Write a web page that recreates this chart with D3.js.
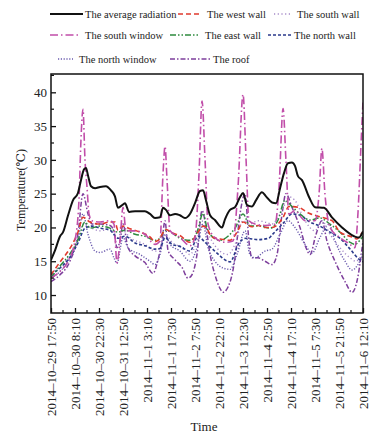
<!DOCTYPE html>
<meta charset="utf-8">
<script src="https://d3js.org/d3.v7.js"></script>
<style>
  body { margin: 0; background: #fff; }
  text { font-family: "Liberation Serif", "DejaVu Serif", serif; fill: #222; }
</style>
<div id="chart"></div>

<script>

// hours since 2014-10-29 17:50, temperature in degC
var avgRadiation = [
  [0,15.2],[2.4,16.6],[5.4,18.7],[7.2,19.3],[10.2,21.8],[13.1,24.0],[16.1,25.1],[17.9,27.0],[19.7,28.6],[20.9,28.8],
  [22.1,27.7],[23.9,26.1],[26.3,25.8],[29.3,26.0],[32.8,26.1],[35.8,25.5],[38.2,24.6],[40.0,22.9],[43.0,23.4],[44.2,23.6],
  [46.6,22.3],[50.2,22.4],[56.1,22.4],[59.1,22.0],[62.1,21.4],[65.1,21.5],[66.9,22.9],[68.7,22.6],[71.1,21.8],[74.1,22.0],
  [77.0,21.8],[80.0,21.4],[83.0,22.0],[86.0,23.6],[89.0,25.4],[90.8,25.5],[92.6,24.0],[95.0,21.8],[97.9,21.1],[102.1,20.0],
  [103.9,21.2],[106.9,22.6],[109.9,23.0],[112.9,24.5],[114.7,25.1],[117.1,23.3],[120.0,23.1],[122.4,24.0],[126.0,25.2],[128.4,24.6],
  [132.0,23.7],[134.4,23.6],[136.8,25.8],[139.1,28.0],[141.5,29.5],[143.9,29.6],[145.7,29.1],[147.5,27.6],[149.9,27.0],[154.1,24.5],
  [157.7,23.0],[163.0,22.9],[167.8,21.5],[173.8,20.0],[181.0,18.7],[183.9,18.5],[186.3,19.4]
];

var westWall = [
  [0,13.0],[5.4,14.9],[11.3,16.9],[16.1,19.3],[19.1,21.5],[23.3,20.8],[29.3,20.5],[35.2,20.8],[38.2,20.8],[40.0,19.6],
  [43.0,20.2],[47.2,19.8],[53.2,19.3],[59.1,18.6],[62.1,17.9],[64.0,18.1],[68.7,19.7],[72.3,19.2],[77.0,18.8],[83.0,17.8],
  [87.8,19.3],[90.8,20.2],[92.6,20.0],[96.1,18.6],[100.9,18.3],[106.9,18.1],[111.1,19.3],[114.7,20.8],[120.0,20.1],[123.6,20.3],
  [127.8,20.0],[132.0,20.0],[138.6,21.5],[142.1,23.1],[147.5,23.0],[154.1,22.1],[161.8,21.5],[167.8,21.0],[172.6,19.3],[179.8,18.6],
  [182.7,18.3],[185.1,19.0],[186.3,19.3]
];

var southWall = [
  [0,13.3],[5.4,14.2],[11.3,16.0],[16.1,18.5],[19.1,20.5],[23.3,20.0],[29.3,19.5],[35.2,19.8],[39.4,18.5],[43.0,19.5],
  [47.2,18.5],[56.1,17.5],[62.1,16.5],[65.1,17.0],[68.1,19.0],[72.3,17.8],[78.2,17.0],[83.0,16.0],[87.2,18.0],[90.8,21.0],
  [95.0,18.5],[100.9,16.5],[105.7,16.0],[109.9,17.5],[114.7,21.0],[118.8,20.5],[123.6,21.0],[127.8,20.8],[132.0,20.5],[136.8,22.0],
  [142.7,24.5],[145.7,24.0],[151.7,21.0],[157.7,19.5],[161.8,21.0],[166.6,19.0],[172.6,17.0],[178.6,15.5],[182.1,15.0],[186.3,16.5]
];

var southWindow = [
  [0,12.5],[5.4,13.5],[10.2,15.0],[14.3,18.0],[16.7,24.0],[17.9,33.0],[19.1,37.5],[20.3,30.0],[21.5,26.0],[22.7,22.0],
  [24.5,21.0],[29.3,20.8],[35.2,21.0],[37.6,20.5],[39.4,14.8],[41.2,18.0],[43.0,23.0],[44.8,19.5],[50.2,19.5],[56.1,19.0],
  [62.1,17.5],[65.1,18.0],[66.9,28.0],[68.1,32.0],[69.3,27.0],[71.1,19.5],[77.0,18.5],[83.0,17.3],[86.0,18.5],[88.4,28.0],
  [90.2,38.7],[92.0,30.0],[93.8,20.5],[97.9,18.5],[103.9,17.8],[108.7,18.0],[111.7,26.0],[114.7,39.7],[116.5,30.0],[118.2,21.0],
  [121.8,20.5],[127.8,20.3],[133.8,20.5],[136.2,26.0],[138.6,37.6],[140.3,30.0],[142.1,22.0],[145.7,22.5],[151.7,21.0],[157.7,21.0],
  [160.1,25.0],[161.8,31.7],[163.6,25.0],[166.6,20.0],[172.6,18.5],[178.6,17.5],[181.5,17.0],[183.3,22.0],[185.1,32.0],[186.3,38.5]
];

var eastWall = [
  [0,12.5],[5.4,14.3],[11.3,16.1],[16.1,18.1],[20.3,20.8],[23.3,19.9],[29.3,20.2],[35.2,19.9],[40.0,19.3],[44.2,19.6],
  [50.2,19.0],[56.1,18.7],[62.1,18.1],[65.1,18.4],[68.1,19.6],[72.3,19.2],[77.0,18.4],[83.0,18.1],[87.2,19.3],[90.8,22.1],
  [93.2,19.9],[96.1,18.7],[100.9,18.1],[105.7,18.7],[109.9,19.9],[114.7,22.0],[118.8,20.2],[124.8,20.2],[130.8,19.9],[135.6,21.1],
  [139.7,24.0],[143.9,23.1],[148.7,22.0],[154.7,21.1],[160.6,21.4],[166.6,20.5],[172.6,19.3],[178.6,17.8],[181.5,17.5],[184.5,18.1],
  [186.3,18.7]
];

var northWall = [
  [0,13.0],[5.4,14.0],[11.3,15.6],[16.1,17.7],[20.3,19.9],[24.5,20.2],[29.3,19.9],[35.2,19.6],[40.0,18.4],[44.2,18.7],
  [50.2,17.7],[56.1,17.3],[62.1,16.8],[65.1,16.9],[68.1,18.5],[72.3,17.5],[77.0,17.2],[83.0,16.5],[87.8,18.7],[92.0,17.8],
  [96.1,16.9],[100.9,15.8],[103.9,15.2],[106.9,14.9],[112.3,17.7],[116.5,18.4],[123.6,18.2],[130.0,18.4],[132.0,18.9],[138.6,20.6],
  [143.9,22.0],[148.7,21.8],[154.7,20.8],[160.6,20.2],[166.6,19.3],[172.6,18.4],[178.6,16.8],[183.9,15.3],[186.3,14.9]
];

var northWindow = [
  [0,12.5],[5.4,13.5],[11.3,15.5],[16.1,18.5],[19.1,22.0],[22.1,19.0],[26.3,16.5],[29.3,16.3],[35.2,16.8],[37.6,15.5],
  [39.4,14.7],[43.0,18.5],[46.0,17.0],[53.2,16.0],[59.1,15.0],[62.1,14.5],[65.1,16.0],[68.1,19.0],[71.1,17.5],[77.0,16.5],
  [83.0,15.0],[87.2,17.0],[90.8,20.5],[93.8,17.0],[97.9,15.0],[102.7,14.0],[106.9,13.8],[111.1,16.0],[115.9,19.5],[118.8,16.0],
  [121.8,15.5],[127.8,16.5],[132.0,16.8],[136.8,19.0],[141.5,21.0],[145.7,20.0],[151.7,17.5],[155.9,16.2],[160.6,18.5],[166.0,20.5],
  [169.6,18.0],[175.6,15.0],[179.8,13.7],[183.3,14.5],[186.3,16.0]
];

var roof = [
  [0,12.0],[5.4,13.0],[11.3,15.0],[16.1,19.0],[19.1,25.0],[22.1,22.0],[24.5,20.5],[29.3,20.5],[35.2,20.3],[37.6,19.5],
  [39.4,17.0],[41.2,18.0],[43.0,20.5],[46.0,17.0],[50.2,15.8],[56.1,14.8],[60.9,13.2],[63.9,15.2],[66.3,18.0],[68.1,21.0],
  [69.9,16.6],[74.1,15.2],[78.2,14.1],[81.8,12.5],[84.2,13.0],[87.2,16.0],[90.2,22.5],[92.6,20.0],[95.0,16.0],[97.9,13.0],
  [100.9,11.0],[102.7,10.4],[106.9,11.9],[109.9,15.5],[112.9,22.0],[115.9,25.0],[118.2,18.0],[120.0,15.5],[123.6,15.5],[127.8,15.0],
  [132.0,14.5],[135.0,16.0],[138.0,22.0],[140.3,25.0],[143.9,23.0],[148.7,20.0],[152.3,17.0],[154.7,16.0],[158.3,19.0],[161.8,21.0],
  [164.8,18.0],[169.6,15.0],[175.6,12.0],[179.8,10.4],[182.7,12.0],[186.3,18.0]
];

var timeLabels = [
  "2014–10–29 17:50", "2014–10–30 8:10", "2014–10–30 22:30", "2014–10–31 12:50",
  "2014–11–1 3:10", "2014–11–1 17:30", "2014–11–2 7:50", "2014–11–2 22:10",
  "2014–11–3 12:30", "2014–11–4 2:50", "2014–11–4 17:10", "2014–11–5 7:30",
  "2014–11–5 21:50", "2014–11–6 12:10"
];
var tempTicks = [10, 15, 20, 25, 30, 35, 40];

var step = 14 + 20 / 60;   // hours between time labels

var series = [
  {name: "The average radiation", data: avgRadiation, color: "#111", dash: null, w: 2},
  {name: "The west wall", data: westWall, color: "#e03a2e", dash: "5,3", w: 1.6},
  {name: "The south wall", data: southWall, color: "#a58ac8", dash: "1.2,2.5", w: 1.4},
  {name: "The south window", data: southWindow, color: "#c14ea9", dash: "8,3,1.5,3", w: 1.6},
  {name: "The east wall", data: eastWall, color: "#2e8a3e", dash: "6,2,1.5,2,1.5,2", w: 1.5},
  {name: "The north wall", data: northWall, color: "#2b3a8c", dash: "3,2", w: 1.6},
  {name: "The north window", data: northWindow, color: "#6a5aae", dash: "1.2,1.6", w: 1.4},
  {name: "The roof", data: roof, color: "#7e3f9c", dash: "5,2,1.5,2", w: 1.5}
];

var W = 379, H = 436;
var margin = {top: 74, right: 16, bottom: 123, left: 51};

var svg = d3.select("#chart").append("svg")
  .attr("width", W)
  .attr("height", H);

var x = d3.scaleLinear()
  .domain([0, 13 * step])
  .range([margin.left, W - margin.right]);

var y = d3.scaleLinear()
  .domain([7.34, 42.71])
  .range([H - margin.bottom, margin.top]);

svg.append("clipPath").attr("id", "plot")
  .append("rect")
    .attr("x", margin.left).attr("y", margin.top)
    .attr("width", x.range()[1] - margin.left)
    .attr("height", y.range()[0] - margin.top);

var line = d3.line()
  .x(function(d) { return x(d[0]); })
  .y(function(d) { return y(d[1]); })
  .curve(d3.curveMonotoneX);

// draw the lower lines first, black on top
var order = [7, 6, 2, 5, 4, 1, 3, 0];
svg.append("g").attr("clip-path", "url(#plot)")
  .selectAll("path")
  .data(order.map(function(i) { return series[i]; }))
  .enter().append("path")
    .attr("d", function(d) { return line(d.data); })
    .attr("fill", "none")
    .attr("stroke", function(d) { return d.color; })
    .attr("stroke-width", function(d) { return d.w; })
    .attr("stroke-dasharray", function(d) { return d.dash; });

// frame
svg.append("rect")
  .attr("x", margin.left).attr("y", margin.top)
  .attr("width", x.range()[1] - margin.left)
  .attr("height", y.range()[0] - margin.top)
  .attr("fill", "none").attr("stroke", "#111").attr("stroke-width", 1.5);

// x axis, ticks pointing inward
var xTickVals = d3.range(14).map(function(i) { return i * step; });
var xMinor = d3.range(13).map(function(i) { return (i + 0.5) * step; });

var xAxis = svg.append("g")
  .attr("transform", "translate(0," + y.range()[0] + ")")
  .call(d3.axisBottom(x).tickValues(xTickVals).tickSizeInner(-5).tickSizeOuter(0)
    .tickFormat(function(d, i) { return timeLabels[i]; }));
xAxis.select(".domain").remove();
xAxis.selectAll("line").attr("stroke", "#111").attr("stroke-width", 1.3);
xAxis.selectAll("text")
  .attr("transform", "rotate(-90)")
  .attr("text-anchor", "end")
  .attr("x", -5)
  .attr("y", 0)
  .attr("dy", "0.35em")
  .style("font-size", "13px")
  .style("fill", "#222");

svg.append("g")
  .selectAll("line")
  .data(xMinor)
  .enter().append("line")
    .attr("x1", function(d) { return x(d); })
    .attr("x2", function(d) { return x(d); })
    .attr("y1", y.range()[0])
    .attr("y2", y.range()[0] - 3)
    .attr("stroke", "#111").attr("stroke-width", 1.2);

// y axis
var yAxis = svg.append("g")
  .attr("transform", "translate(" + margin.left + ",0)")
  .call(d3.axisLeft(y).tickValues(tempTicks).tickSizeInner(-5).tickSizeOuter(0).tickPadding(4));
yAxis.select(".domain").remove();
yAxis.selectAll("line").attr("stroke", "#111").attr("stroke-width", 1.3);
yAxis.selectAll("text").style("font-size", "13px").style("fill", "#222");

svg.append("g")
  .selectAll("line")
  .data(d3.range(12.5, 42.6, 5))
  .enter().append("line")
    .attr("x1", margin.left)
    .attr("x2", margin.left + 3)
    .attr("y1", function(d) { return y(d); })
    .attr("y2", function(d) { return y(d); })
    .attr("stroke", "#111").attr("stroke-width", 1.2);

// axis titles
svg.append("text")
  .attr("transform", "translate(25,190) rotate(-90)")
  .attr("text-anchor", "middle")
  .style("font-size", "12px")
  .text("Temperature(℃)");

svg.append("text")
  .attr("x", 204).attr("y", 431)
  .attr("text-anchor", "middle")
  .style("font-size", "13px")
  .text("Time");

// legend
var legendPos = [
  {x1: 50, x2: 83, tx: 85, y: 14},
  {x1: 178, x2: 202, tx: 207, y: 14},
  {x1: 274, x2: 291, tx: 297, y: 14},
  {x1: 50, x2: 80, tx: 85, y: 35},
  {x1: 170, x2: 200, tx: 205, y: 35},
  {x1: 268, x2: 291, tx: 294, y: 35},
  {x1: 58, x2: 73, tx: 79, y: 59},
  {x1: 170, x2: 210, tx: 213, y: 59}
];

var legend = svg.append("g")
  .selectAll("g")
  .data(series)
  .enter().append("g");

legend.append("line")
  .attr("x1", function(d, i) { return legendPos[i].x1; })
  .attr("x2", function(d, i) { return legendPos[i].x2; })
  .attr("y1", function(d, i) { return legendPos[i].y; })
  .attr("y2", function(d, i) { return legendPos[i].y; })
  .attr("stroke", function(d) { return d.color; })
  .attr("stroke-width", function(d) { return d.w; })
  .attr("stroke-dasharray", function(d) { return d.dash; });

legend.append("text")
  .attr("x", function(d, i) { return legendPos[i].tx; })
  .attr("y", function(d, i) { return legendPos[i].y; })
  .attr("dy", "0.35em")
  .style("font-size", "10.5px")
  .text(function(d) { return d.name; });

</script>
